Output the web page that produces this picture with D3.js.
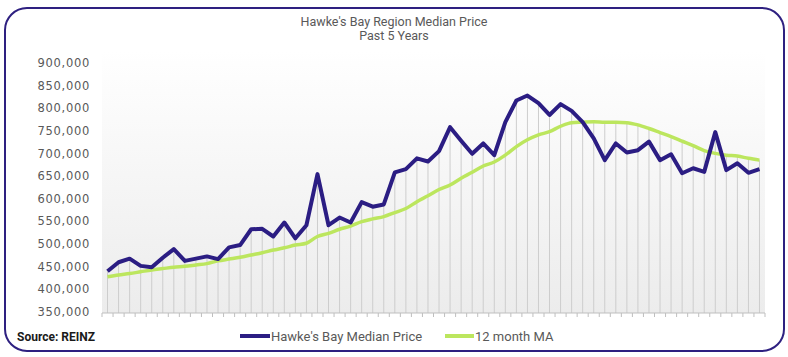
<!DOCTYPE html>
<html>
<head>
<meta charset="utf-8">
<script src="https://cdn.jsdelivr.net/npm/d3@7/dist/d3.min.js"></script>
<style>
  html, body { margin: 0; padding: 0; background: #ffffff; }
  svg { display: block; }
</style>
</head>
<body>
<svg id="chart" width="788" height="357"></svg>
<script>
// ---- Data ----
const months = ["Jan","Feb","Mar","Apr","May","Jun","Jul","Aug","Sep","Oct","Nov","Dec"];
const years = ["19","20","21","22","23"];
const categories = [];
years.forEach(y => months.forEach(m => categories.push(m + "-" + y)));

const medianPrice = [
  439000, 459000, 467000, 451000, 448000, 469000, 488000, 462000, 467000, 472000,
  466000, 492000, 497000, 532000, 533000, 516000, 547000, 512000, 541000, 654000,
  541000, 558000, 547000, 592000, 582000, 587000, 658000, 665000, 689000, 682000,
  705000, 758000, 728000, 699000, 722000, 696000, 769000, 817000, 828000, 811000,
  785000, 809000, 794000, 769000, 733000, 685000, 722000, 702000, 707000, 726000,
  685000, 698000, 656000, 667000, 659000, 747000, 663000, 678000, 657000, 665000
];
const movingAvg = [
  427000, 431000, 434000, 438000, 442000, 445000, 448000, 450000, 453000, 456000,
  462000, 466000, 470000, 475000, 480000, 486000, 491000, 497000, 501000, 516000,
  523000, 532000, 539000, 549000, 555000, 560000, 569000, 578000, 593000, 606000,
  620000, 630000, 645000, 658000, 672000, 681000, 696000, 715000, 730000, 741000,
  748000, 760000, 768000, 769000, 770000, 769000, 769000, 768000, 763000, 755000,
  746000, 737000, 727000, 717000, 706000, 700000, 696000, 694000, 689000, 685000
];
const yTicks = [350000, 400000, 450000, 500000, 550000, 600000, 650000, 700000, 750000, 800000, 850000, 900000];
const titleLines = ["Hawke's Bay Region Median Price", "Past 5 Years"];
const seriesNames = ["Hawke's Bay Median Price", "12 month MA"];
const sourceText = "Source: REINZ";

// ---- Layout ----
const svg = d3.select("#chart");
const plot = { left: 102, right: 765, top: 50, bottom: 313 };
const darkColor = "#2b1d83";
const greenColor = "#bce65e";
const textColor = "#595959";

// frame
svg.append("rect")
  .attr("x", 5).attr("y", 8).attr("width", 779).attr("height", 343)
  .attr("rx", 22).attr("ry", 22)
  .attr("fill", "#ffffff").attr("stroke", "#2e2080").attr("stroke-width", 2);

// gradient background of plot area
const defs = svg.append("defs");
const grad = defs.append("linearGradient").attr("id", "bg").attr("x1", 0).attr("y1", 0).attr("x2", 0).attr("y2", 1);
grad.append("stop").attr("offset", "0%").attr("stop-color", "#ffffff");
grad.append("stop").attr("offset", "100%").attr("stop-color", "#ececec");
svg.append("rect")
  .attr("x", plot.left).attr("y", plot.top)
  .attr("width", plot.right - plot.left).attr("height", plot.bottom - plot.top)
  .attr("fill", "url(#bg)");

// scales
const x = d3.scaleBand().domain(categories).range([plot.left, plot.right]).padding(0);
const y = d3.scaleLinear().domain([350000, 900000]).range([311.5, 63]);
const cx = d => x(d) + x.bandwidth() / 2;

// drop lines
svg.append("g").selectAll("line")
  .data(categories)
  .join("line")
  .attr("x1", d => cx(d)).attr("x2", d => cx(d))
  .attr("y1", plot.bottom)
  .attr("y2", (d, i) => y(Math.max(medianPrice[i], movingAvg[i])))
  .attr("stroke", "#cdcdcd").attr("stroke-width", 1);

// x axis (ticks between categories)
const xAxisG = svg.append("g").attr("transform", `translate(0,${plot.bottom})`);
xAxisG.append("line").attr("x1", plot.left).attr("x2", plot.right).attr("y1", 0).attr("y2", 0)
  .attr("stroke", "#bfbfbf").attr("stroke-width", 1);
const boundaries = categories.map(c => x(c)).concat([plot.right]);
xAxisG.selectAll("line.tick").data(boundaries).join("line")
  .attr("class", "tick")
  .attr("x1", d => d).attr("x2", d => d).attr("y1", 0).attr("y2", 4)
  .attr("stroke", "#bfbfbf").attr("stroke-width", 1);

// y axis
const yAxis = d3.axisLeft(y).tickValues(yTicks).tickFormat(d3.format(",")).tickSize(0).tickPadding(12);
const yAxisG = svg.append("g").attr("transform", `translate(${plot.left},0)`).call(yAxis);
yAxisG.select(".domain").remove();
yAxisG.selectAll("text")
  .attr("fill", textColor)
  .style("font-family", "'DejaVu Sans', sans-serif")
  .style("font-size", "11.5px")
  .style("letter-spacing", "0.7px");

// lines
const maLine = d3.line().x((d, i) => cx(categories[i])).y(d => y(d)).curve(d3.curveMonotoneX);
svg.append("path").datum(movingAvg)
  .attr("d", maLine).attr("fill", "none")
  .attr("stroke", greenColor).attr("stroke-width", 3.5).attr("stroke-linejoin", "round");

const medLine = d3.line().x((d, i) => cx(categories[i])).y(d => y(d));
svg.append("path").datum(medianPrice)
  .attr("d", medLine).attr("fill", "none")
  .attr("stroke", darkColor).attr("stroke-width", 4).attr("stroke-linejoin", "round");

// title
svg.append("g").selectAll("text").data(titleLines).join("text")
  .attr("x", 394).attr("y", (d, i) => 26 + i * 14)
  .attr("text-anchor", "middle")
  .attr("fill", textColor)
  .style("font-family", "Roboto, sans-serif").style("font-size", "12.5px")
  .text(d => d);

// legend
const legend = svg.append("g");
const legendItems = [
  { name: seriesNames[0], color: darkColor, x0: 240, x1: 270 },
  { name: seriesNames[1], color: greenColor, x0: 445, x1: 474 }
];
legendItems.forEach(it => {
  legend.append("line").attr("x1", it.x0).attr("x2", it.x1).attr("y1", 336).attr("y2", 336)
    .attr("stroke", it.color).attr("stroke-width", 4);
  legend.append("text").attr("x", it.x1 + 1).attr("y", 340.5)
    .attr("fill", textColor)
    .style("font-family", "Roboto, sans-serif").style("font-size", "13px")
    .text(it.name);
});

// source
svg.append("text").attr("x", 17).attr("y", 340.5)
  .attr("fill", "#1a1a1a")
  .style("font-family", "Roboto, sans-serif").style("font-size", "12px").style("font-weight", "bold")
  .text(sourceText);
</script>
</body>
</html>
